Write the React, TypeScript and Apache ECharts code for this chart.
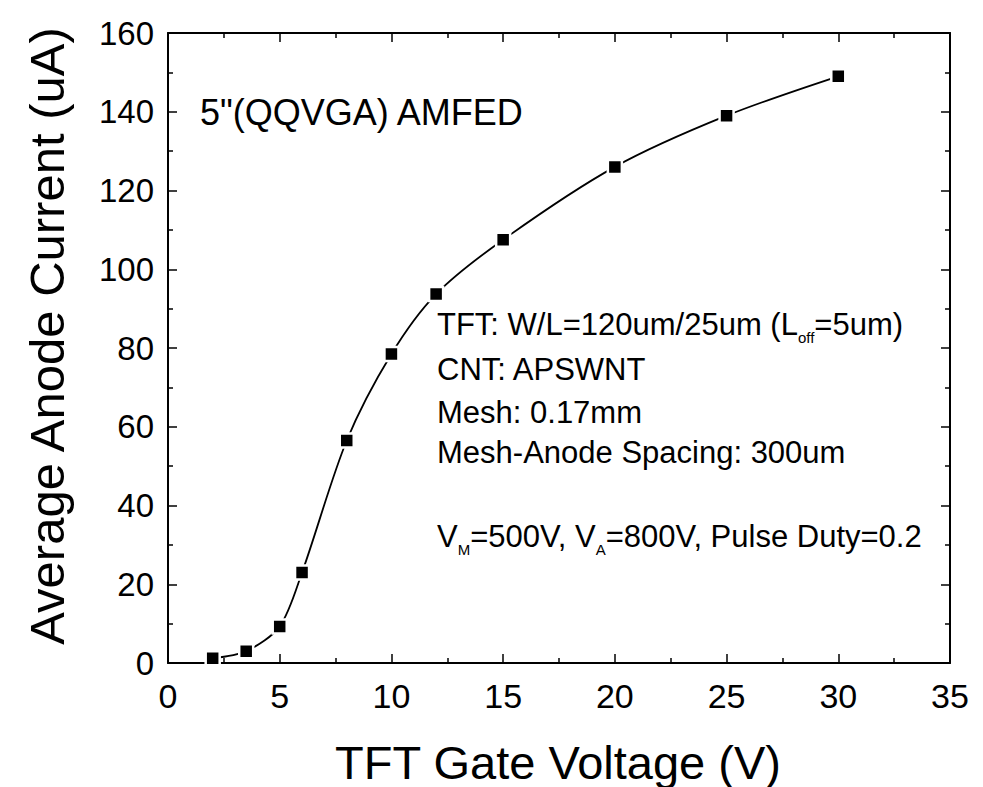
import React, { useEffect, useRef } from "react";
import * as echarts from "echarts";

const voltage = [2, 3.5, 5, 6, 8, 10, 12, 15, 20, 25, 30];
const current = [1.2, 3, 9.3, 23, 56.5, 78.5, 93.7, 107.5, 126, 139, 149];
const xTicks = { min: 0, max: 35, interval: 5 };
const yTicks = { min: 0, max: 160, interval: 20 };
const xTitle = "TFT Gate Voltage (V)";
const yTitle = "Average Anode Current (uA)";
const deviceLabel = "5\"(QQVGA) AMFED";
const infoLines = ["CNT: APSWNT", "Mesh: 0.17mm", "Mesh-Anode Spacing: 300um"];

const FONT = "'Liberation Sans', Arial, Helvetica, sans-serif";

function measure(text: string, size: number): number {
  const c = document.createElement("canvas").getContext("2d");
  if (!c) return text.length * size * 0.55;
  c.font = `${size}px ${FONT}`;
  return c.measureText(text).width;
}

export default function App() {
  const ref = useRef<HTMLDivElement>(null);
  useEffect(() => {
    document.body.style.margin = "0";
    if (!ref.current) return;
    const chart = echarts.init(ref.current, null, { renderer: "svg" });

    const fs = 31;
    const subFs = 15;
    const tx = 437;
    const txt = (text: string, x: number, y: number, size: number, extra: any = {}) => ({
      type: "text",
      x,
      y,
      style: {
        text,
        font: `${size}px ${FONT}`,
        fill: "#000",
        textAlign: "left",
        textVerticalAlign: "middle",
        ...extra,
      },
    });

    const l1a = "TFT: W/L=120um/25um (L";
    const w1a = measure(l1a, fs);
    const wOff = measure("off", subFs);
    const y1 = 324;
    const y5 = 536;
    const p1 = "V";
    const p2 = "=500V, V";
    const p3 = "=800V, Pulse Duty=0.2";
    const wp1 = measure(p1, fs);
    const wM = measure("M", subFs);
    const wp2 = measure(p2, fs);
    const wA = measure("A", subFs);

    const graphics: any[] = [
      txt(l1a, tx, y1, fs),
      txt("off", tx + w1a, y1 + 13, subFs),
      txt("=5um)", tx + w1a + wOff, y1, fs),
      txt(infoLines[0], tx, 369, fs),
      txt(infoLines[1], tx, 412, fs),
      txt(infoLines[2], tx, 452, fs),
      txt(p1, tx, y5, fs),
      txt("M", tx + wp1, y5 + 13, subFs),
      txt(p2, tx + wp1 + wM, y5, fs),
      txt("A", tx + wp1 + wM + wp2, y5 + 13, subFs),
      txt(p3, tx + wp1 + wM + wp2 + wA, y5, fs),
      txt(deviceLabel, 200, 112, 36),
      {
        type: "text",
        x: 558,
        y: 762,
        style: {
          text: xTitle,
          font: `47px ${FONT}`,
          fill: "#000",
          textAlign: "center",
          textVerticalAlign: "middle",
        },
      },
      {
        type: "text",
        x: 47,
        y: 336,
        rotation: Math.PI / 2,
        style: {
          text: yTitle,
          font: `49px ${FONT}`,
          fill: "#000",
          textAlign: "center",
          textVerticalAlign: "middle",
        },
      },
    ];

    const axisCommon = {
      axisLine: { show: true, onZero: false, lineStyle: { color: "#000", width: 2 } },
      axisTick: { show: true, inside: true, length: 9, lineStyle: { color: "#000", width: 1.5 } },
      minorTick: { show: true, splitNumber: 2, length: 5, lineStyle: { color: "#000", width: 1.5 } },
      splitLine: { show: false },
      minorSplitLine: { show: false },
    };

    chart.setOption({
      animation: false,
      backgroundColor: "#fff",
      grid: { left: 168, right: 33, top: 33, bottom: 124, containLabel: false },
      xAxis: [
        {
          type: "value",
          position: "bottom",
          ...xTicks,
          ...axisCommon,
          axisLabel: { show: true, color: "#000", fontSize: 34, fontFamily: FONT, margin: 16 },
        },
        {
          type: "value",
          position: "top",
          ...xTicks,
          ...axisCommon,
          axisLabel: { show: false },
        },
      ],
      yAxis: [
        {
          type: "value",
          position: "left",
          ...yTicks,
          ...axisCommon,
          axisLabel: { show: true, color: "#000", fontSize: 33, fontFamily: FONT, margin: 14 },
        },
        {
          type: "value",
          position: "right",
          ...yTicks,
          ...axisCommon,
          axisLabel: { show: false },
        },
      ],
      series: [
        {
          type: "line",
          xAxisIndex: 0,
          yAxisIndex: 0,
          data: voltage.map((v, i) => [v, current[i]]),
          smooth: 0.3,
          symbol: "rect",
          symbolSize: 14,
          showSymbol: true,
          lineStyle: { color: "#000", width: 1.8 },
          itemStyle: { color: "#000", borderColor: "#fff", borderWidth: 2.5 },
        },
      ],
      graphic: graphics,
    });
    return () => chart.dispose();
  }, []);
  return <div ref={ref} style={{ width: 983, height: 787 }} />;
}
